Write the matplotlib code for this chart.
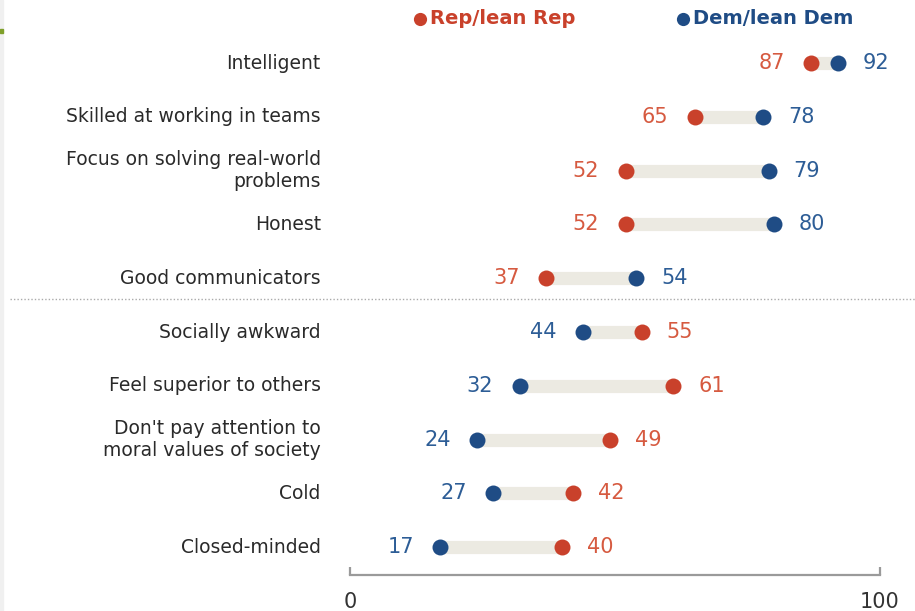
import matplotlib.pyplot as plt
from matplotlib.patches import Rectangle

# data
traits = ["Intelligent", "Skilled at working in teams",
          "Focus on solving real-world\nproblems", "Honest",
          "Good communicators", "Socially awkward",
          "Feel superior to others",
          "Don't pay attention to\nmoral values of society",
          "Cold", "Closed-minded"]
rep = [87, 65, 52, 52, 37, 55, 61, 49, 42, 40]
dem = [92, 78, 79, 80, 54, 44, 32, 24, 27, 17]
x_ticks = [0, 100]

RED = "#C9412B"
BLUE = "#1F4C85"
RED_TXT = "#D65A40"
BLUE_TXT = "#2D5D96"
BAR = "#ECEAE2"

plt.rcParams['font.family'] = ['DejaVu Sans']

fig = plt.figure(figsize=(9.15, 6.11), dpi=100)
W, H = 915, 611
ax = fig.add_axes([350 / W, 1 - 575 / H, 530 / W, 530 / H])
ax.set_xlim(0, 100)
ax.set_ylim(9.517, -0.335)

for i, (r, d) in enumerate(zip(rep, dem)):
    ax.plot([r, d], [i, i], color=BAR, lw=9.5, solid_capstyle="butt", zorder=1)
    ax.plot(r, i, "o", color=RED, ms=11.5, mec="none", zorder=3)
    ax.plot(d, i, "o", color=BLUE, ms=11.5, mec="none", zorder=3)
    lo, hi = (r, d) if r < d else (d, r)
    lo_c = RED_TXT if r < d else BLUE_TXT
    hi_c = BLUE_TXT if r < d else RED_TXT
    ax.annotate(str(lo), (lo, i), xytext=(-19, 0), textcoords="offset points",
                ha="right", va="center", fontsize=15, color=lo_c)
    ax.annotate(str(hi), (hi, i), xytext=(18, 0), textcoords="offset points",
                ha="left", va="center", fontsize=15, color=hi_c)
    ax.text(-5.5, i, traits[i], ha="right", va="center", fontsize=13.5,
            color="#2A2A2A", linespacing=1.2)

# dotted separator between the two groups
ax.plot([-340 / 5.3, 565 / 5.3], [4.38, 4.38], ls=(0, (1, 1.5)), color="#AAAAAA",
        lw=1, clip_on=False)

for s in ["top", "right", "left"]:
    ax.spines[s].set_visible(False)
ax.spines["bottom"].set_color("#9A9A9A")
ax.spines["bottom"].set_linewidth(1.6)
ax.set_yticks([])
ax.set_xticks(x_ticks)
ax.tick_params(axis="x", direction="in", length=6, width=1.6, color="#9A9A9A",
               labelsize=15, labelcolor="#333333", pad=12)

# legend
for xd, xt, lab, c in [(420, 430, "Rep/lean Rep", RED), (683, 693, "Dem/lean Dem", BLUE)]:
    ax.plot(xd / W, 1 - 19 / H, "o", color=c, ms=9.5, mec="none",
            transform=fig.transFigure, clip_on=False)
    fig.text(xt / W, 1 - 19 / H, lab, color=c, fontsize=14, fontweight="bold",
             ha="left", va="center")

# little edge decorations
fig.patches.append(Rectangle((0, 0), 3 / W, 1, transform=fig.transFigure,
                             color="#F0F0F0", zorder=0))
fig.patches.append(Rectangle((0, 1 - 33 / H), 3 / W, 4 / H, transform=fig.transFigure,
                             color="#7FA02A", zorder=1))

fig.savefig("out.png", dpi=100)
